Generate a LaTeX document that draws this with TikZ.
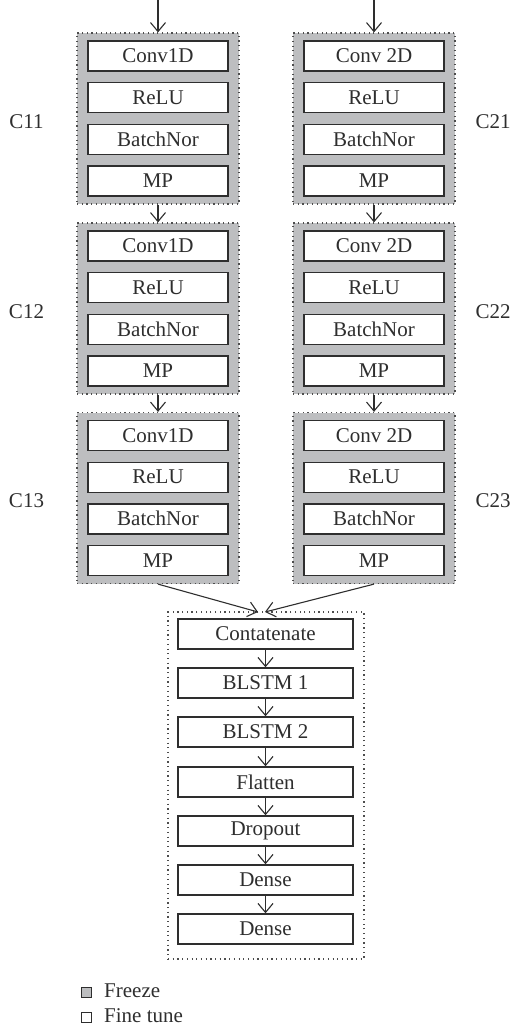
\documentclass[tikz,border=0pt]{standalone}
\usepackage{fontspec}
\setmainfont{Liberation Serif}
\usetikzlibrary{arrows.meta}
\definecolor{frz}{HTML}{BDBEC0}
\definecolor{ink}{HTML}{2E2E2E}
\begin{document}
\begin{tikzpicture}[x=1pt,y=-1pt,
  every node/.style={font=\fontsize{21}{24}\selectfont, text=ink},
  outer/.style={rectangle, draw=ink!85, line width=1.2pt, dash pattern=on 1.2pt off 3.5pt, fill=frz, minimum width=162pt, minimum height=171pt, inner sep=0pt},
  layer/.style={rectangle, draw=ink, line width=1.4pt, fill=white, minimum width=140pt, minimum height=30pt, inner sep=0pt},
  blayer/.style={layer, minimum width=175pt},
  finbox/.style={rectangle, draw=ink!85, line width=1.2pt, dash pattern=on 1.2pt off 3.5pt, minimum width=196pt, minimum height=347pt, inner sep=0pt},
  legsq/.style={rectangle, draw=ink, line width=1pt, minimum size=10pt, inner sep=0pt},
  arr/.style={draw=ink, line width=1.1pt, -{Straight Barb[length=9pt,width=15pt,line width=1.1pt]}},
  clabel/.style={inner sep=0pt}
]
\useasboundingbox (0,0) rectangle (511,1030);

% conv blocks
\foreach \col/\cx/\txt/\lx/\cn in {L/158/Conv1D/26.5/1, R/374/Conv 2D/493/2} {
  \foreach \row/\cy in {1/118.5, 2/308.5, 3/498} {
    \node[outer] (\col\row) at (\cx,\cy) {};
    \node[layer] (\col\row a) at (\cx,\cy-62.5) {\txt};
    \node[layer] (\col\row b) at (\cx,\cy-20.8) {ReLU};
    \node[layer] (\col\row c) at (\cx,\cy+20.8) {BatchNor};
    \node[layer] (\col\row d) at (\cx,\cy+62.5) {MP};
    \node[clabel] (lab\col\row) at (\lx,\cy+3) {C\cn\row};
  }
}

% input arrows
\coordinate (inL) at (158,0);
\coordinate (inR) at (374,0);
\draw[arr] (inL) -- (L1.north);
\draw[arr] (inR) -- (R1.north);
\draw[arr] (L1.south) -- (L2.north);
\draw[arr] (L2.south) -- (L3.north);
\draw[arr] (R1.south) -- (R2.north);
\draw[arr] (R2.south) -- (R3.north);

% final block
\node[finbox] (fin) at (266,785.5) {};
\node[blayer] (f1) at (265.5,634) {Contatenate};
\node[blayer] (f2) at (265.5,683) {BLSTM 1};
\node[blayer] (f3) at (265.5,732) {BLSTM 2};
\node[blayer] (f4) at (265.5,782) {Flatten};
\node[blayer] (f5) at (265.5,831) {Dropout};
\node[blayer] (f6) at (265.5,880) {Dense};
\node[blayer] (f7) at (265.5,929) {Dense};
\foreach \a/\b in {f1/f2, f2/f3, f3/f4, f4/f5, f5/f6, f6/f7} {
  \draw[arr] (\a.south) -- (\b.north);
}

\coordinate (jL) at (258,612);
\coordinate (jR) at (265,612);
\draw[arr] (L3.south) -- (jL);
\draw[arr] (R3.south) -- (jR);

% legend
\node[legsq, fill=frz] (sqF) at (86,992) {};
\node[legsq, fill=white] (sqT) at (86,1017) {};
\node[anchor=base west, inner sep=0pt] (tF) at (104,997) {Freeze};
\node[anchor=base west, inner sep=0pt] (tT) at (104,1022) {Fine tune};
\end{tikzpicture}
\end{document}
